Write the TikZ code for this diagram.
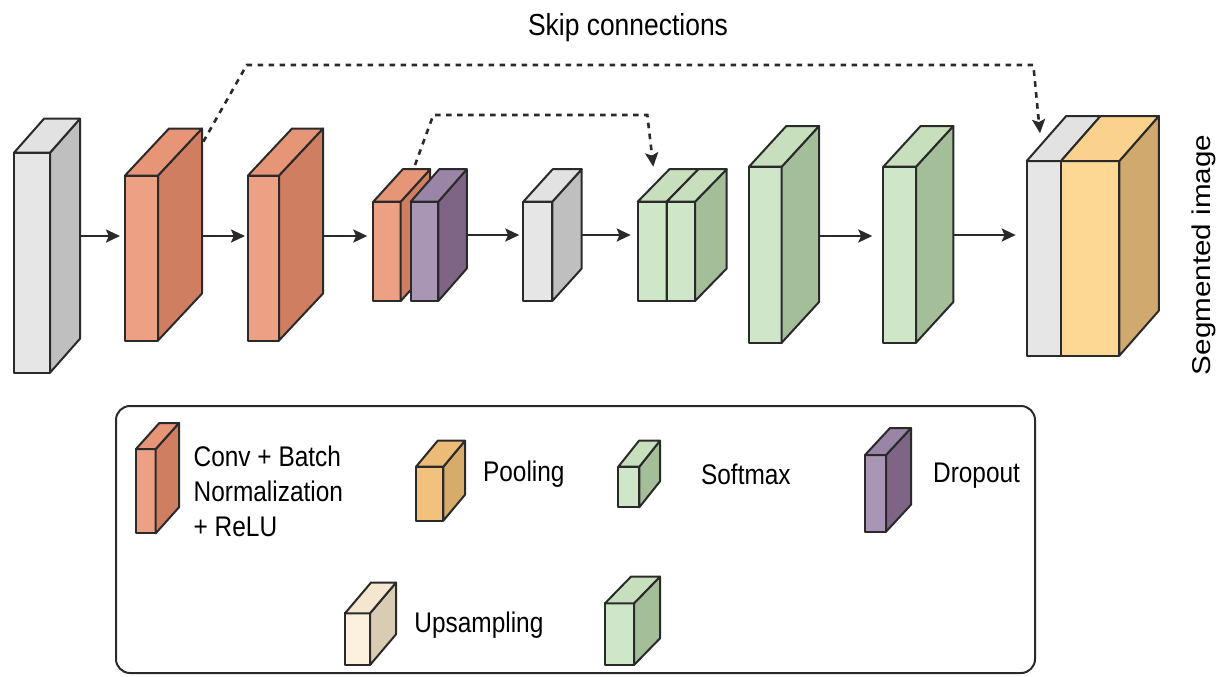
\documentclass[tikz,border=0pt]{standalone}
\usepackage{fontspec}
\setmainfont{Liberation Sans}
\usetikzlibrary{arrows.meta,calc}
\definecolor{edgecol}{HTML}{2A2A2A}
\definecolor{grayF}{HTML}{E6E6E6}\definecolor{grayS}{HTML}{BFBFBF}\definecolor{grayT}{HTML}{E2E2E2}
\definecolor{oranF}{HTML}{ECA084}\definecolor{oranS}{HTML}{CF7E61}\definecolor{oranT}{HTML}{E69576}
\definecolor{purpF}{HTML}{A996B5}\definecolor{purpS}{HTML}{7E6586}\definecolor{purpT}{HTML}{9A85A7}
\definecolor{grenF}{HTML}{D0E6C8}\definecolor{grenS}{HTML}{A4BE9A}\definecolor{grenT}{HTML}{C7DFBD}
\definecolor{yellF}{HTML}{FDD794}\definecolor{yellS}{HTML}{CFA96E}\definecolor{yellT}{HTML}{FAD28E}
\definecolor{poolF}{HTML}{F2C17E}\definecolor{poolS}{HTML}{D6AB6B}\definecolor{poolT}{HTML}{EDBB78}
\definecolor{creaF}{HTML}{FCF0DE}\definecolor{creaS}{HTML}{D8CCB4}\definecolor{creaT}{HTML}{F4E6CF}
\tikzset{
  edge/.style={draw=edgecol, line width=1pt, line join=round},
  arr/.style={draw=edgecol, line width=1.2pt, -{Stealth[length=7pt,width=6.5pt,inset=1.4pt]}},
  skip/.style={draw=edgecol, line width=1.3pt, dash pattern=on 2.8pt off 2.7pt, -{Stealth[length=7pt,width=6.5pt,inset=1.4pt]}},
  lbl/.style={font=\fontsize{14.2pt}{17.4pt}\selectfont, inner sep=0pt, anchor=base west, align=left}
}
\newcommand{\lsc}[1]{\scalebox{0.86}[1]{#1}}
% #1 name, #2 x0, #3 y0 (top), #4 x1, #5 y1 (bottom), #6 dx, #7 dy, #8 colour prefix
\newcommand{\drawcube}[8]{%
  \filldraw[edge, fill=#8F] (#2,#3) rectangle (#4,#5);
  \filldraw[edge, fill=#8S] (#4,#3) -- ++(#6,-#7) -- ++(0,{#5-#3}) -- (#4,#5) -- cycle;
  \filldraw[edge, fill=#8T] (#2,#3) -- ++(#6,-#7) -- ({#4+#6},{#3-#7}) -- (#4,#3) -- cycle;
  \coordinate (#1-w) at (#2,{(#3+#5)/2});
  \coordinate (#1-e) at ({#4+#6},{(#3+#5)/2});
}
\begin{document}
\begin{tikzpicture}[x=0.5pt,y=-0.5pt]
\useasboundingbox (0,0) rectangle (1218,676);
% main blocks
\drawcube{b1}{14}{152.7}{50}{372.7}{30}{34}{gray}
\drawcube{b2}{125}{175.5}{158}{340.5}{44}{47}{oran}
\drawcube{b3}{248}{175.5}{279}{340.5}{44}{47}{oran}
\drawcube{b4}{373.3}{201.7}{400.7}{301}{29.5}{32.5}{oran}
\drawcube{b5}{410.7}{201.7}{438.3}{301}{28.5}{32.5}{purp}
\drawcube{b6}{523.3}{201.7}{552.3}{301}{29.4}{32.5}{gray}
\drawcube{b7}{637.7}{201.7}{666.7}{301}{31.7}{32.5}{gren}
\drawcube{b8}{666.7}{201.7}{695}{301}{31.7}{32.5}{gren}
\drawcube{b9}{749}{166.7}{781.7}{342.7}{37.3}{40.7}{gren}
\drawcube{b10}{883.3}{166.7}{916}{342.7}{37.3}{40.7}{gren}
\drawcube{b11}{1026.7}{161}{1061}{355.7}{39.5}{45}{gray}
\drawcube{b12}{1061}{161}{1119.3}{355.7}{39.5}{45}{yell}
% arrows
\coordinate (ay) at (0,236);
\draw[arr, shorten >=2.5pt] (b1-e |- ay) -- (b2-w |- ay);
\draw[arr, shorten >=1.5pt] (b2-e |- ay) -- (b3-w |- ay);
\draw[arr, shorten >=3pt] (b3-e |- ay) -- (b4-w |- ay);
\coordinate (ay2) at (0,235);
\draw[arr, shorten >=2pt] (b5-e |- ay2) -- (b6-w |- ay2);
\draw[arr, shorten >=3.5pt] (b6-e |- ay2) -- (b7-w |- ay2);
\draw[arr, shorten >=5.5pt] (b10-e |- ay2) -- (b11-w |- ay2);
\coordinate (ay3) at (0,236);
\draw[arr, shorten >=5.5pt] (b9-e |- ay3) -- (b10-w |- ay3);
% skip connections
\coordinate (s1a) at (203.3,141.7);
\coordinate (s1b) at (246.7,65);
\coordinate (s1c) at (1033.3,65);
\coordinate (s1d) at (1040,133.3);
\draw[skip] (s1a) -- (s1b) -- (s1c) -- (s1d);
\coordinate (s2a) at (415,165);
\coordinate (s2b) at (433.3,115);
\coordinate (s2c) at (647.3,115);
\coordinate (s2d) at (653.3,166.7);
\draw[skip] (s2a) -- (s2b) -- (s2c) -- (s2d);
\node[inner sep=0pt, anchor=base] (skiplbl) at (628,35) {\fontsize{15.2pt}{17pt}\selectfont\scalebox{0.87}[1]{Skip connections}};
\node[inner sep=0pt, anchor=base, rotate=90] (seglbl) at (1210,255) {\fontsize{14.8pt}{17pt}\selectfont\scalebox{1}[0.87]{Segmented image}};
% legend
\draw[draw=edgecol, line width=1pt, rounded corners=7pt] (116,406) rectangle (1035,673);
\drawcube{l1}{136}{449}{155.7}{533.3}{23.3}{26}{oran}
\node[lbl] (t1) at (193.3,536.5) {\lsc{Conv + Batch}\\\lsc{Normalization}\\\lsc{+ ReLU}};
\drawcube{l2}{416}{466.7}{443.3}{520.7}{21.7}{26}{pool}
\node[lbl] (t2) at (482.7,481.7) {\lsc{Pooling}};
\drawcube{l3}{618.3}{466.7}{639.3}{507.3}{20.7}{26}{gren}
\node[lbl] (t3) at (700.7,484.5) {\lsc{Softmax}};
\drawcube{l4}{865}{455}{886}{531.7}{25}{27}{purp}
\node[lbl] (t4) at (932.7,482.5) {\lsc{Dropout}};
\drawcube{l5}{345}{613.3}{370}{665}{26}{30.7}{crea}
\node[lbl] (t5) at (414,632.7) {\lsc{Upsampling}};
\drawcube{l6}{605}{603.3}{634}{665}{26}{26.7}{gren}
\end{tikzpicture}
\end{document}
